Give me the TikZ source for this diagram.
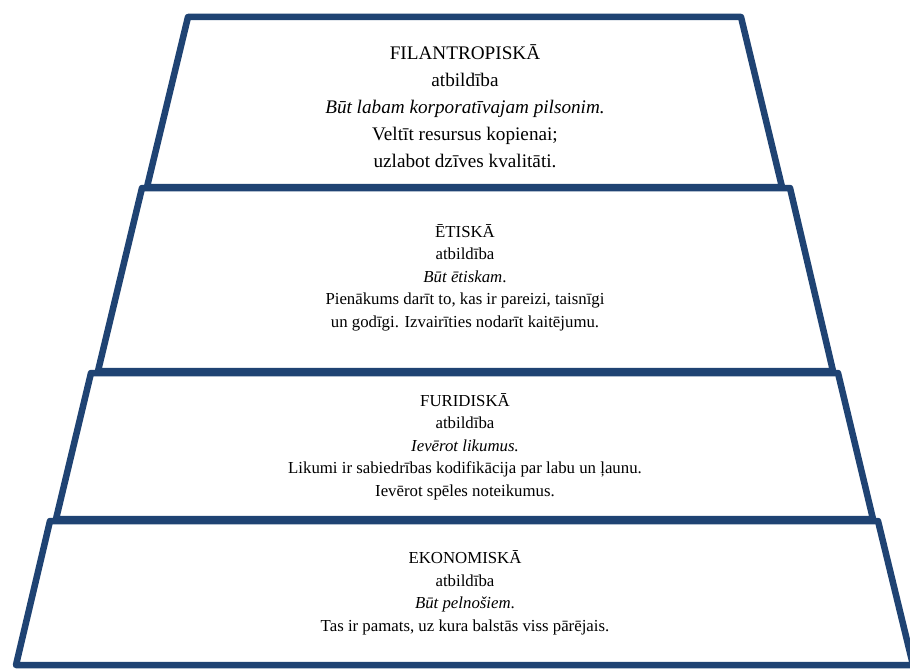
\documentclass[tikz,border=0pt]{standalone}
\usepackage{fontspec}
\setmainfont{Liberation Serif}
\usetikzlibrary{shadows}
\definecolor{pyrblue}{RGB}{31,67,115}
\tikzset{
  layer/.style={draw=pyrblue, line width=6.5pt, line join=round, fill=white,
    drop shadow={shadow xshift=2pt, shadow yshift=-2pt, opacity=0.25}},
  bigtxt/.style={align=center, font=\fontsize{19.2}{27}\selectfont, inner sep=0pt},
  smalltxt/.style={align=center, font=\fontsize{16.8}{22.5}\selectfont, inner sep=0pt}
}
\begin{document}
\begin{tikzpicture}[x=1pt, y=-1pt]
\useasboundingbox (0,0) rectangle (910,669);
\fill[white] (0,0) rectangle (910,669);
\clip (0,0) rectangle (910,669);
% layers (top to bottom, later drawn over earlier)
\draw[layer] (188,17) -- (741,17) -- (782,187) -- (147,187) -- cycle;
\draw[layer] (142,188) -- (790,188) -- (833,371) -- (98,371) -- cycle;
\draw[layer] (91,373) -- (838,373) -- (873,519) -- (56,519) -- cycle;
\draw[layer] (50,521) -- (878,521) -- (913,665) -- (16,665) -- cycle;
% texts
\node[bigtxt] (filan) at (465,106.5) {FILANTROPISKĀ\\atbildība\\\textit{Būt labam korporatīvajam pilsonim.}\\Veltīt resursus kopienai;\\uzlabot dzīves kvalitāti.};
\node[smalltxt] (etis) at (465,277.5) {ĒTISKĀ\\atbildība\\\textit{Būt ētiskam}.\\Pienākums darīt to, kas ir pareizi, taisnīgi\\un godīgi. Izvairīties nodarīt kaitējumu.};
\node[smalltxt] (furid) at (465,446.5) {FURIDISKĀ\\atbildība\\\textit{Ievērot likumus.}\\Likumi ir sabiedrības kodifikācija par labu un ļaunu.\\Ievērot spēles noteikumus.};
\node[smalltxt] (ekon) at (465,593) {EKONOMISKĀ\\atbildība\\\textit{Būt pelnošiem}.\\Tas ir pamats, uz kura balstās viss pārējais.};
\end{tikzpicture}
\end{document}
